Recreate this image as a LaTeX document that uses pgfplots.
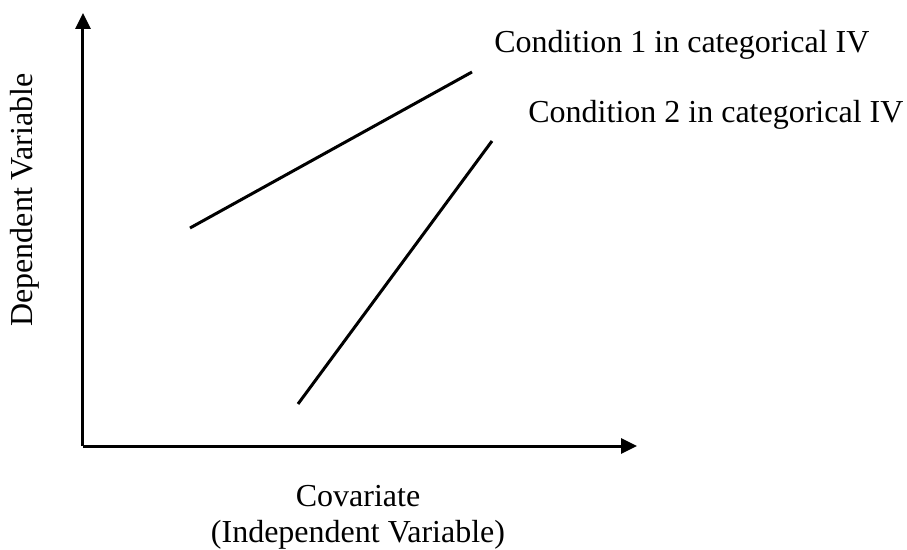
\documentclass[border=0pt]{standalone}
\usepackage{fontspec}
\setmainfont{Liberation Serif}
\usepackage{pgfplots}
\pgfplotsset{compat=1.18}
\usetikzlibrary{arrows.meta}
\begin{document}
\begin{tikzpicture}
\begin{axis}[
  scale only axis,
  width=277pt, height=216.5pt,
  xmin=83, xmax=637, ymin=102, ymax=535,
  axis lines=left,
  axis line style={line width=1.5pt, -{Triangle[length=8pt,width=7.5pt]}},
  xtick=\empty, ytick=\empty,
  clip=false,
  font=\fontsize{16}{19}\selectfont,
]
\path (axis cs:0,0) rectangle (axis cs:907,548);
\addplot[black, line width=1.5pt] coordinates {(190,320) (472,476)};
\addplot[black, line width=1.5pt] coordinates {(298,144) (492,407)};
\node[anchor=base west, inner sep=0pt] at (axis cs:494,495) {Condition 1 in categorical IV};
\node[anchor=base west, inner sep=0pt] at (axis cs:528,425) {Condition 2 in categorical IV};
\node[rotate=90, inner sep=0pt] at (axis cs:25,348) {Dependent Variable};
\node[anchor=base, inner sep=0pt] at (axis cs:358,41) {Covariate};
\node[anchor=base, inner sep=0pt] at (axis cs:358,5) {(Independent Variable)};
\end{axis}
\end{tikzpicture}
\end{document}
